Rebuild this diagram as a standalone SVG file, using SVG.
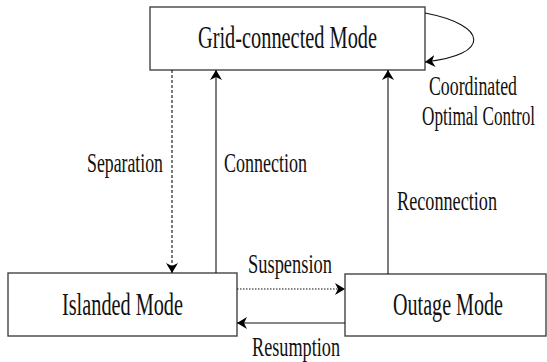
<svg xmlns="http://www.w3.org/2000/svg" width="547" height="362" viewBox="0 0 547 362">
<style>
.box{fill:#fff;stroke:#444;stroke-width:1.4}
.t{font-family:"Liberation Serif","Times New Roman","DejaVu Serif",serif;fill:#111;text-anchor:middle}
.n{font-size:31px}
.l{font-size:27px}
.c{fill:none;stroke:#111;stroke-width:1.1}
.dash{stroke-dasharray:3,2}
.dot{stroke-dasharray:1.5,1.5}
</style>
<defs>
<marker id="ah" markerWidth="10" markerHeight="12" refX="10" refY="6" orient="auto" markerUnits="userSpaceOnUse">
<path d="M0,0 L10,6 L0,12 L3,6 Z" fill="#000"/>
</marker>
</defs>
<g id="grid">
<rect class="box" x="150" y="7" width="275" height="63"/>
<g transform="translate(287.5,48) scale(0.65,1)"><text class="t n" x="0" y="0" textLength="275.4" lengthAdjust="spacingAndGlyphs">Grid-connected Mode</text></g>
</g>
<g id="islanded">
<rect class="box" x="8" y="273" width="229" height="63"/>
<g transform="translate(122.5,315) scale(0.65,1)"><text class="t n" x="0" y="0" textLength="186.2" lengthAdjust="spacingAndGlyphs">Islanded Mode</text></g>
</g>
<g id="outage">
<rect class="box" x="345" y="274" width="201" height="62"/>
<g transform="translate(448,315) scale(0.65,1)"><text class="t n" x="0" y="0" textLength="169.2" lengthAdjust="spacingAndGlyphs">Outage Mode</text></g>
</g>
<g id="connectors">
<path class="c dash" d="M172,70 L172,273" marker-end="url(#ah)"/>
<path class="c" d="M216,273 L216,70" marker-end="url(#ah)"/>
<path class="c" d="M388,274 L388,70" marker-end="url(#ah)"/>
<path class="c dot" d="M237,289 L345,289" marker-end="url(#ah)"/>
<path class="c" d="M345,323 L237,323" marker-end="url(#ah)"/>
<path class="c" d="M425,13 C488,25 492,55 425,62" marker-end="url(#ah)"/>
<g transform="translate(125,172) scale(0.65,1)"><text class="t l" x="0" y="0" textLength="116.9" lengthAdjust="spacingAndGlyphs">Separation</text></g>
<g transform="translate(265.5,172) scale(0.65,1)"><text class="t l" x="0" y="0" textLength="127.7" lengthAdjust="spacingAndGlyphs">Connection</text></g>
<g transform="translate(447,210) scale(0.65,1)"><text class="t l" x="0" y="0" textLength="153.8" lengthAdjust="spacingAndGlyphs">Reconnection</text></g>
<g transform="translate(290,273) scale(0.65,1)"><text class="t l" x="0" y="0" textLength="129.2" lengthAdjust="spacingAndGlyphs">Suspension</text></g>
<g transform="translate(296,356) scale(0.65,1)"><text class="t l" x="0" y="0" textLength="135.4" lengthAdjust="spacingAndGlyphs">Resumption</text></g>
<g transform="translate(473,95) scale(0.65,1)"><text class="t l" x="0" y="0" textLength="135.4" lengthAdjust="spacingAndGlyphs">Coordinated</text></g>
<g transform="translate(478.5,125) scale(0.65,1)"><text class="t l" x="0" y="0" textLength="173.8" lengthAdjust="spacingAndGlyphs">Optimal Control</text></g>
</g>
</svg>
